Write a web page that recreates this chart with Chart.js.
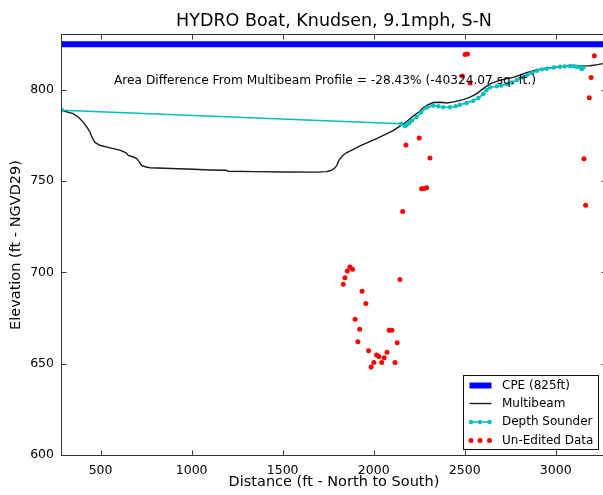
<!DOCTYPE html>
<html><head><meta charset="utf-8">
<script src="https://cdn.jsdelivr.net/npm/chart.js@4/dist/chart.umd.min.js"></script>
<style>
html,body{margin:0;padding:0;background:#fff;overflow:hidden;width:603px;height:495px}
#wrap{position:relative;width:640px;height:495px}
</style></head><body>
<div id="wrap"><canvas id="c" width="640" height="495"></canvas></div>
<script>
const titleText = 'HYDRO Boat, Knudsen, 9.1mph, S-N';
const xTitle = 'Distance (ft - North to South)';
const yTitle = 'Elevation (ft - NGVD29)';
const noteText = 'Area Difference From Multibeam Profile = -28.43% (-40324.07 sq. ft.)';
const xTicks = [500, 1000, 1500, 2000, 2500, 3000];
const yTicks = [600, 650, 700, 750, 800];
const xRange = [288, 3276];
const yRange = [600, 830];

const cpeX = [288, 3276];
const cpeY = [825, 825];

const mbX = [288, 320, 349, 380, 404, 425, 441, 455, 469, 496, 540, 606, 640, 652, 680, 698, 712, 725, 750, 771, 850, 1009, 1100, 1190, 1200, 1350, 1500, 1687, 1740, 1765, 1785, 1797, 1810, 1830, 1850, 1880, 1925, 2016, 2107, 2144, 2180, 2217, 2250, 2272, 2291, 2327, 2370, 2401, 2440, 2492, 2530, 2566, 2600, 2639, 2694, 2767, 2840, 2900, 2932, 3023, 3133, 3188, 3230, 3276];
const mbY = [788.6, 787.8, 786.9, 784.8, 782.3, 779.5, 777.0, 773.5, 771.2, 769.6, 768.5, 767.0, 765.5, 764.1, 763.2, 762.3, 760.5, 758.6, 757.7, 757.3, 757.0, 756.5, 756.1, 755.9, 755.4, 755.2, 755.0, 754.9, 755.2, 755.8, 757.0, 758.5, 761.5, 764.0, 765.5, 767.0, 769.3, 773.3, 777.6, 780.1, 782.5, 785.6, 788.0, 790.2, 791.4, 793.0, 793.2, 792.8, 793.4, 794.6, 796.0, 797.9, 800.5, 803.2, 805.3, 806.8, 809.4, 811.0, 811.6, 812.7, 813.1, 813.2, 813.8, 814.6];

const dsX = [288, 2150, 2170, 2181, 2195, 2210, 2236, 2260, 2291, 2327, 2355, 2382, 2419, 2450, 2474, 2510, 2547, 2575, 2602, 2620, 2639, 2676, 2700, 2731, 2760, 2786, 2815, 2841, 2870, 2896, 2925, 2951, 2990, 3024, 3050, 3079, 3100, 3115, 3135, 3143, 3152];
const dsY = [788.8, 781.4, 780.2, 780.6, 781.8, 783.2, 785.1, 787.5, 790.3, 791.3, 791.0, 790.5, 790.4, 791.0, 791.8, 792.8, 794.0, 795.5, 797.7, 799.8, 801.3, 801.9, 802.3, 803.1, 804.0, 805.3, 806.7, 808.0, 809.3, 810.4, 811.2, 811.6, 812.2, 812.6, 812.8, 813.0, 812.9, 812.6, 812.2, 811.3, 812.2];

const rawX = [2502, 2515, 2487, 2529, 2250, 2177, 2309, 2263, 2276, 2291, 2159, 3212, 3194, 3184, 3155, 3164, 1869, 1884, 1855, 1842, 1833, 2144, 1936, 1957, 1898, 1923, 2085, 2100, 1913, 2129, 1972, 2073, 2016, 2029, 2058, 2001, 2044, 2117, 1986];
const rawY = [819.3, 819.6, 807.6, 803.7, 773.6, 769.8, 762.7, 745.8, 746.0, 746.3, 733.4, 818.6, 806.7, 795.6, 762.2, 736.8, 703.0, 701.7, 700.8, 697.0, 693.5, 696.1, 689.7, 683.0, 674.4, 668.8, 668.3, 668.3, 662.0, 661.5, 657.1, 656.2, 654.8, 653.9, 653.3, 650.6, 650.6, 650.6, 648.2];

const pts = (xs, ys) => xs.map((v, i) => ({x: v, y: ys[i]}));
const FONT = "'DejaVu Sans', sans-serif";

const deco = {
  id: 'deco',
  afterDatasetsDraw(chart) {
    const {ctx, chartArea: a, scales: {x, y}} = chart;
    ctx.save();
    // annotation
    ctx.fillStyle = '#000';
    ctx.font = '12.2px ' + FONT;
    ctx.textAlign = 'left';
    ctx.textBaseline = 'middle';
    ctx.fillText(noteText, a.left + 52, a.top + 46);
    // spines
    ctx.strokeStyle = '#333';
    ctx.lineWidth = 1;
    const L = Math.round(a.left) - 0.5, R = Math.round(a.right) + 0.5;
    const T = Math.round(a.top) - 0.5, B = Math.round(a.bottom) + 0.5;
    ctx.strokeRect(L, T, R - L, B - T);
    // inward ticks
    ctx.beginPath();
    xTicks.forEach(v => {
      const px = Math.round(x.getPixelForValue(v)) + 0.5;
      ctx.moveTo(px, B); ctx.lineTo(px, B - 5);
      ctx.moveTo(px, T); ctx.lineTo(px, T + 5);
    });
    yTicks.forEach(v => {
      const py = Math.round(y.getPixelForValue(v)) + 0.5;
      ctx.moveTo(L, py); ctx.lineTo(L + 5, py);
      ctx.moveTo(R, py); ctx.lineTo(R - 5, py);
    });
    ctx.stroke();
    // titles
    const cx = (a.left + a.right) / 2;
    ctx.fillStyle = '#000';
    ctx.textAlign = 'center';
    ctx.textBaseline = 'alphabetic';
    ctx.font = '17.5px ' + FONT;
    ctx.fillText(titleText, cx, 26);
    ctx.font = '14.5px ' + FONT;
    ctx.textBaseline = 'middle';
    ctx.fillText(xTitle, cx, 482);
    ctx.save();
    ctx.translate(16, (a.top + a.bottom) / 2);
    ctx.rotate(-Math.PI / 2);
    ctx.fillText(yTitle, 0, 0);
    ctx.restore();
    ctx.restore();
  },
  afterDraw(chart) {
    const {ctx} = chart;
    const ds = chart.data.datasets;
    ctx.save();
    const bx = 463.5, by = 375.5, bw = 135, bh = 74;
    ctx.fillStyle = '#fff';
    ctx.fillRect(bx, by, bw, bh);
    ctx.strokeStyle = '#111';
    ctx.lineWidth = 1;
    ctx.strokeRect(bx, by, bw, bh);
    const rows = [385.5, 403.5, 422, 440.5];
    ctx.font = '12px ' + FONT;
    ctx.textAlign = 'left';
    ctx.textBaseline = 'middle';
    ds.forEach((d, i) => {
      const ry = rows[i];
      if (d.showLine) {
        ctx.strokeStyle = d.borderColor;
        ctx.lineWidth = d.borderWidth;
        ctx.beginPath();
        ctx.moveTo(469.5, ry); ctx.lineTo(491.5, ry);
        ctx.stroke();
      }
      if (d.pointRadius > 0) {
        ctx.fillStyle = d.backgroundColor;
        [471, 480, 489.5].forEach(px => {
          ctx.beginPath();
          ctx.arc(px, ry, d.pointRadius, 0, Math.PI * 2);
          ctx.fill();
        });
      }
      ctx.fillStyle = '#000';
      ctx.fillText(d.label, 502, ry);
    });
    ctx.restore();
  }
};

new Chart(document.getElementById('c'), {
  type: 'scatter',
  data: {
    datasets: [
      {label: 'CPE (825ft)', data: pts(cpeX, cpeY), showLine: true, borderColor: '#0000FF', backgroundColor: '#0000FF', borderWidth: 6, pointRadius: 0, order: 3},
      {label: 'Multibeam', data: pts(mbX, mbY), showLine: true, borderColor: '#1a1a1a', backgroundColor: '#1a1a1a', borderWidth: 1.4, pointRadius: 0, order: 2},
      {label: 'Depth Sounder', data: pts(dsX, dsY), showLine: true, borderColor: '#00BFBF', backgroundColor: '#00BFBF', borderWidth: 1.6, pointRadius: 2.2, pointBorderWidth: 0, order: 1},
      {label: 'Un-Edited Data', data: pts(rawX, rawY), showLine: false, borderColor: '#FF0000', backgroundColor: '#FF0000', pointRadius: 2.5, pointBorderWidth: 0, order: 0}
    ]
  },
  options: {
    responsive: false,
    animation: false,
    devicePixelRatio: 1,
    layout: {padding: {left: 0, right: 34, top: 35, bottom: 0}},
    plugins: {legend: {display: false}, title: {display: false}, tooltip: {enabled: false}},
    scales: {
      x: {
        type: 'linear', min: xRange[0], max: xRange[1],
        afterBuildTicks: s => { s.ticks = xTicks.map(v => ({value: v})); },
        afterFit: s => { s.height = 40; },
        grid: {display: false, drawTicks: false},
        border: {display: false},
        ticks: {padding: 8, color: '#000', autoSkip: false, maxRotation: 0, font: {family: FONT, size: 12.5}, callback: v => String(v)}
      },
      y: {
        type: 'linear', min: yRange[0], max: yRange[1],
        afterBuildTicks: s => { s.ticks = yTicks.map(v => ({value: v})); },
        afterFit: s => { s.width = 62; },
        grid: {display: false, drawTicks: false},
        border: {display: false},
        ticks: {padding: 8, color: '#000', autoSkip: false, font: {family: FONT, size: 12.5}, callback: v => String(v)}
      }
    }
  },
  plugins: [deco]
});
</script>
</body></html>
